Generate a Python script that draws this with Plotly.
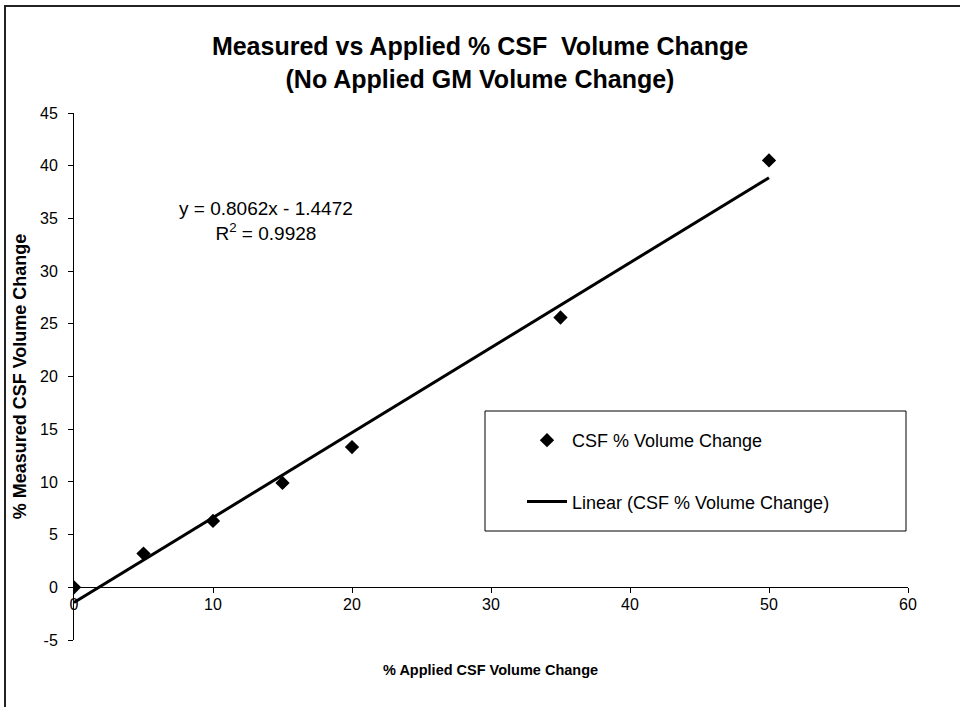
import plotly.graph_objects as go

# Data
applied = [0, 5, 10, 15, 20, 35, 50]
measured = [0, 3.2, 6.3, 9.9, 13.3, 25.6, 40.5]
slope = 0.8062
intercept = -1.4472
trend_x = [0, 50]
trend_y = [slope * x + intercept for x in trend_x]
x_ticks = [0, 10, 20, 30, 40, 50, 60]
y_ticks = [-5, 0, 5, 10, 15, 20, 25, 30, 35, 40, 45]
y_tick_labels = [str(v) for v in y_ticks]

W, H = 960, 707
L, R, T, B = 74, 52, 113, 67
PW, PH = W - L - R, H - T - B


def px(xp):
    return (xp - L) / PW


def py(yp):
    return (H - B - yp) / PH


FONT = "Liberation Sans, Arial, sans-serif"

fig = go.Figure()
fig.add_trace(go.Scatter(
    x=applied, y=measured, mode="markers", name="CSF % Volume Change",
    marker=dict(symbol="diamond", size=11, color="black"),
    legendgroup="a",
))
fig.add_trace(go.Scatter(
    x=trend_x, y=trend_y, mode="lines", name="Linear (CSF % Volume Change)",
    line=dict(color="black", width=3),
    legendgroup="b",
))

fig.update_layout(
    width=W, height=H,
    margin=dict(l=L, r=R, t=T, b=B, autoexpand=False),
    paper_bgcolor="white", plot_bgcolor="white",
    font=dict(family=FONT, color="black", size=16),
    title=dict(
        text="<b>Measured vs Applied % CSF  Volume Change<br>(No Applied GM Volume Change)</b>",
        x=0.5, xanchor="center", y=1 - 55 / H, yanchor="middle",
        font=dict(size=25, family=FONT),
    ),
    xaxis=dict(
        range=[0, 60], tickvals=x_ticks, showgrid=False, zeroline=False,
        showline=True, linecolor="black", linewidth=1,
        ticks="outside", ticklen=5, tickcolor="black",
        anchor="free", position=0.1, ticklabelstandoff=-3,
        tickfont=dict(size=16),
    ),
    yaxis=dict(
        range=[-5, 45], tickvals=y_ticks, ticktext=y_tick_labels,
        showgrid=False, zeroline=False,
        showline=True, linecolor="black", linewidth=1,
        ticks="outside", ticklen=5, tickcolor="black",
        ticklabelstandoff=7,
        tickfont=dict(size=16),
        title=dict(text="<b>% Measured CSF Volume Change</b>", font=dict(size=18), standoff=8),
    ),
    showlegend=True,
    legend=dict(
        x=px(522), y=py(422), xanchor="left", yanchor="top",
        bgcolor="rgba(0,0,0,0)", borderwidth=0,
        font=dict(size=18), tracegroupgap=35, itemwidth=40,
    ),
    shapes=[
        dict(type="rect", xref="paper", yref="paper",
             x0=px(485), x1=px(906), y0=py(531), y1=py(411),
             line=dict(color="black", width=1), fillcolor="rgba(0,0,0,0)"),
        dict(type="rect", xref="paper", yref="paper",
             x0=px(5), x1=px(975), y0=py(725), y1=py(6),
             line=dict(color="#222222", width=2), fillcolor="rgba(0,0,0,0)"),
    ],
    annotations=[
        dict(x=13.8, y=34.8, xref="x", yref="y", showarrow=False,
             text="y = 0.8062x - 1.4472<br>R<sup>2</sup> = 0.9928",
             align="center", xanchor="center", yanchor="middle", font=dict(size=19)),
        dict(x=px(490), y=py(670), xref="paper", yref="paper", showarrow=False,
             xanchor="center", yanchor="middle",
             text="<b>% Applied CSF Volume Change</b>", font=dict(size=14.5)),
    ],
)

fig.write_html("out.html", config={"displayModeBar": False},
               post_script="document.body.style.margin='0px';")
